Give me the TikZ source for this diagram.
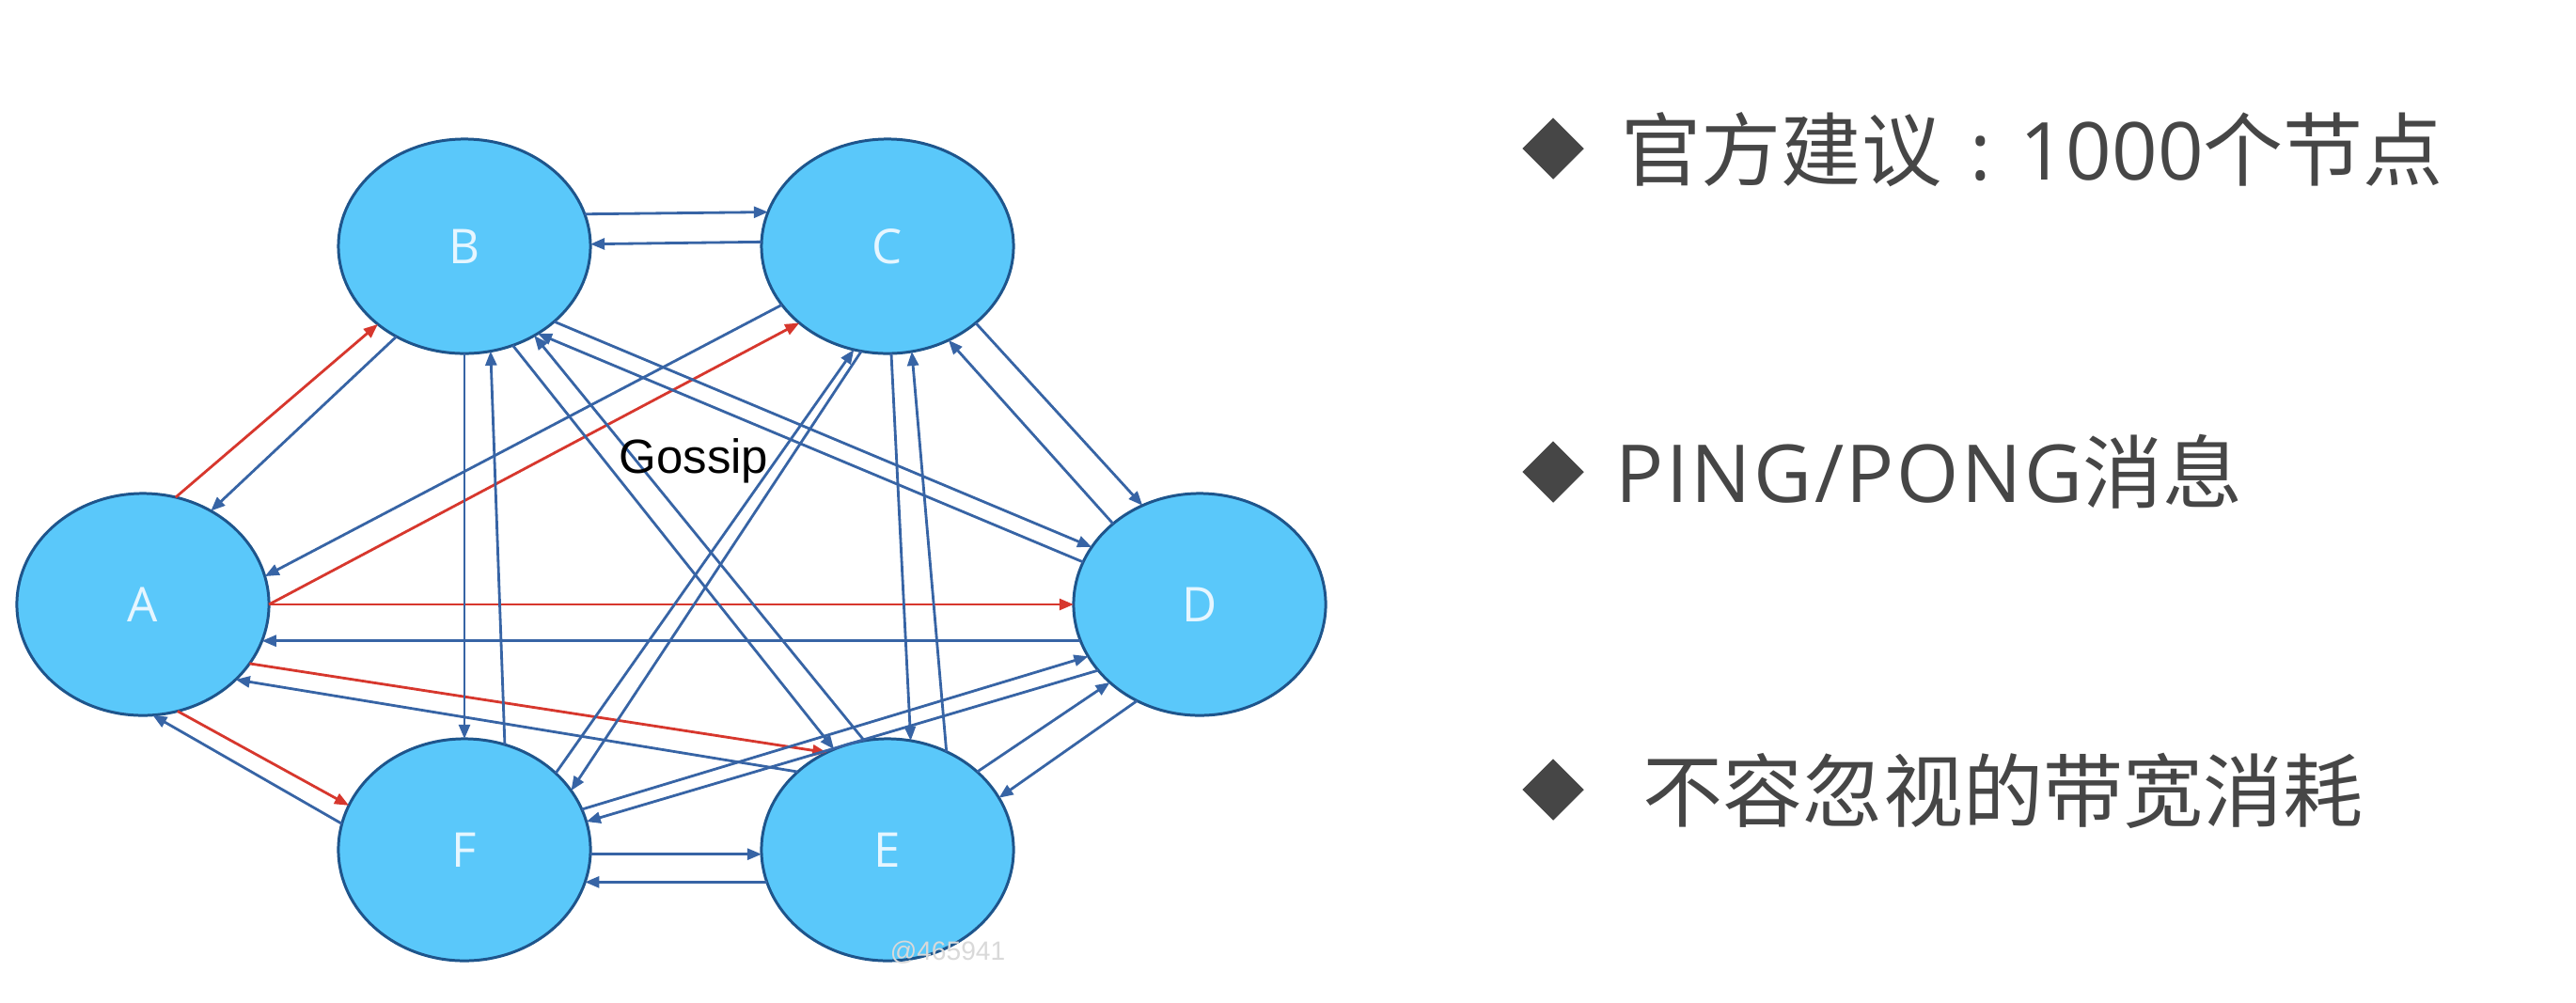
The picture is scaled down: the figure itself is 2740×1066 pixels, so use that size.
\documentclass[tikz,border=0pt]{standalone}
\usepackage{fontspec}
\setmainfont{Liberation Sans}
\newfontfamily\cjkfont{Noto Sans CJK SC}
\newfontfamily\labfont{Open Sans}
\newfontfamily\latfont{Open Sans}
\newfontfamily\latwide[LetterSpace=3]{Open Sans}
\usetikzlibrary{arrows.meta,shapes.geometric}
\definecolor{nodefill}{RGB}{90,200,250}
\definecolor{nodeedge}{RGB}{30,85,140}
\definecolor{linkblue}{RGB}{55,100,165}
\definecolor{linkred}{RGB}{215,55,45}
\definecolor{textgray}{RGB}{70,70,70}
\definecolor{labwhite}{RGB}{230,246,255}
\begin{document}
\begin{tikzpicture}[x=0.01cm,y=-0.01cm,
  peer/.style={ellipse, draw=nodeedge, line width=0.85pt, fill=nodefill,
    minimum width=2.68cm, minimum height=2.36cm, inner sep=0pt, outer sep=0pt,
    text=labwhite, font=\labfont\fontsize{14.5}{16}\selectfont},
  toppeer/.style={peer, minimum height=2.28cm},
  link/.style={draw=linkblue, line width=0.8pt, -{Triangle[length=4.3pt,width=3.4pt]}},
  hot/.style={link, draw=linkred},
  bullet/.style={diamond, fill=textgray, draw=none, inner sep=0pt,
    minimum width=0.66cm, minimum height=0.66cm},
  item/.style={anchor=west, inner sep=0pt, text=textgray,
    font=\cjkfont\fontsize{24.2}{28}\selectfont}
]
\useasboundingbox (0,0) rectangle (2740,1066);
\fill[white] (0,0) rectangle (2740,1066);

\node[peer] (A) at (152,643) {A};
\node[toppeer] (B) at (494,262) {B};
\node[toppeer] (C) at (944,262) {C};
\node[peer] (D) at (1276,643) {D};
\node[peer] (E) at (944,904) {E};
\node[peer] (F) at (494,904) {F};

\draw[hot] (A.73.5) -- (B.222.8);
\draw[link] (B.233.8) -- (A.54.1);
\draw[link] (B.15.3) -- (C.164.7);
\draw[link] (C.178.7) -- (B.1.3);
\draw[link] (C.209.6) -- (A.13);
\draw[hot] (A.0) -- (C.221.6);
\draw[hot] (A.0) -- (D.180);
\draw[link] (D.197.6) -- (A.-17.6);
\draw[hot] (A.-29.6) -- (E.122.8);
\draw[link] (E.139.8) -- (A.-39.6);
\draw[hot] (A.-72.4) -- (F.159.6);
\draw[link] (F.168.4) -- (A.-85.8);
\draw[link] (B.270) -- (F.90);
\draw[link] (F.69.8) -- (B.-76);
\draw[link] (B.-64.2) -- (E.118.6);
\draw[link] (E.102.8) -- (B.-52.4);
\draw[link] (B.-40.4) -- (D.152.9);
\draw[link] (D.160.4) -- (B.-50.5);
\draw[link] (C.-41) -- (D.120.1);
\draw[link] (D.137.2) -- (C.-57.1);
\draw[link] (C.256.9) -- (F.29.3);
\draw[link] (F.40.3) -- (C.252.6);
\draw[link] (C.-88.6) -- (E.78.2);
\draw[link] (E.59.5) -- (C.-77.4);
\draw[link] (F.19.8) -- (D.205.6);
\draw[link] (D.213) -- (F.13);
\draw[link] (E.41) -- (D.221.7);
\draw[link] (D.237) -- (E.25.1);
\draw[link] (F.-2) -- (E.182);
\draw[link] (E.195.3) -- (F.-15.3);

\node[anchor=base, inner sep=0pt, font=\fontsize{14.5}{17}\selectfont] (gossip) at (738,503) {Gossip};
\node[inner sep=0pt, text=black!15, font=\fontsize{8}{10}\selectfont] (wm) at (1008,1013) {@465941};

\node[bullet] (d1) at (1652,158) {};
\node[bullet] (d2) at (1652,502) {};
\node[bullet] (d3) at (1652,840) {};
\node[item] (t1) at (1724,159) {官方建议\hspace{0.36em}{\latfont :}\hspace{0.36em}{\latfont 1000}个节点};
\node[item] (t2) at (1718,502) {{\latwide PING/PONG}消息};
\node[item] (t3) at (1747,841) {不容忽视的带宽消耗};
\end{tikzpicture}
\end{document}
